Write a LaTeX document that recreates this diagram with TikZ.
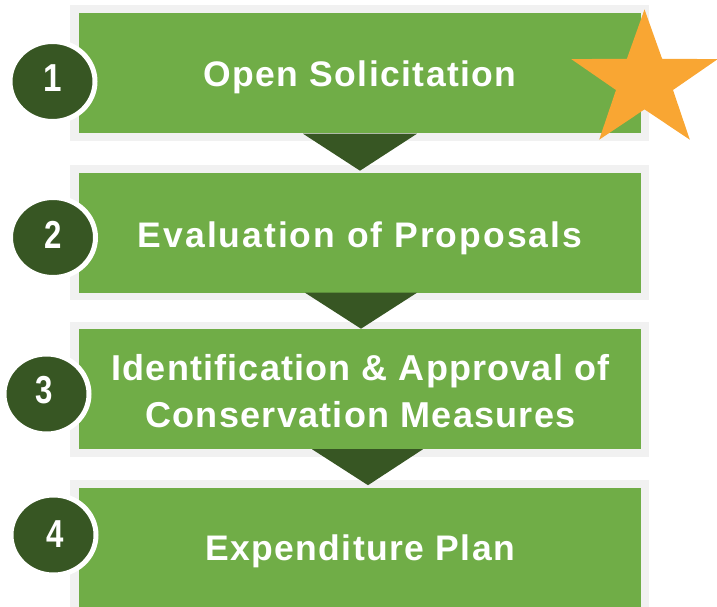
\documentclass[tikz,border=0pt]{standalone}
\usepackage{fontspec}
\usepackage{graphicx}
\setmainfont{Liberation Sans}
\usetikzlibrary{calc,shapes.geometric}
\definecolor{grn}{HTML}{70AD47}
\definecolor{dkg}{HTML}{375623}
\definecolor{frm}{HTML}{F1F1F1}
\definecolor{org}{HTML}{F9A633}
\begin{document}
\begin{tikzpicture}[x=1pt,y=-1pt,
  frame/.style={fill=frm,draw=none,inner sep=0pt,minimum width=579pt,minimum height=135pt},
  stepbox/.style={fill=grn,draw=none,inner sep=0pt,minimum width=562pt,minimum height=120pt},
  numdisc/.style={ellipse,fill=dkg,draw=white,line width=5pt,inner sep=0pt,minimum width=85pt,minimum height=80pt},
  numtxt/.style={text=white,anchor=base,inner sep=0pt,font=\bfseries\fontsize{39}{39}\selectfont},
  steptxt/.style={text=white,anchor=base,inner sep=0pt},
  tri/.style={fill=dkg}
]
\useasboundingbox (0,0) rectangle (717,607);
% frames and boxes
\node[frame] (f1) at (359.5,73) {};
\node[frame] (f2) at (359.5,232) {};
\node[frame] (f3) at (359.5,389) {};
\node[frame] (f4) at (359.5,547) {};
\node[stepbox] (b1) at (360,73.5) {};
\node[stepbox] (b2) at (360,232.5) {};
\node[stepbox] (b3) at (360,389) {};
\node[stepbox] (b4) at (360,547.5) {};
% connectors (triangles)
\fill[tri] ($(b1.south)+(-57,0)$) -- ($(b1.south)+(57,0)$) -- ($(b1.south)+(0,37)$) -- cycle;
\fill[tri] ($(b2.south)+(-55,0)$) -- ($(b2.south)+(57,0)$) -- ($(b2.south)+(1,36)$) -- cycle;
\fill[tri] ($(b3.south)+(-48,0)$) -- ($(b3.south)+(63,0)$) -- ($(b3.south)+(8,36)$) -- cycle;
% texts
\node[steptxt,font=\bfseries\fontsize{35.5}{35.5}\selectfont\addfontfeature{LetterSpace=4.0}] (t1) at (360,87) {Open Solicitation};
\node[steptxt,font=\bfseries\fontsize{35.5}{35.5}\selectfont\addfontfeature{LetterSpace=5.6}] (t2) at (360,247) {Evaluation of Proposals};
\node[steptxt,font=\bfseries\fontsize{36}{36}\selectfont\addfontfeature{LetterSpace=3.2}] (t3a) at (360.5,380) {Identification \& Approval of};
\node[steptxt,font=\bfseries\fontsize{36}{36}\selectfont\addfontfeature{LetterSpace=3.5}] (t3b) at (360.5,427) {Conservation Measures};
\node[steptxt,font=\bfseries\fontsize{35.5}{35.5}\selectfont\addfontfeature{LetterSpace=4.0}] (t4) at (360,560) {Expenditure Plan};
% number discs
\node[numdisc] (c1) at (52.5,81.5) {};
\node[numdisc] (c2) at (53,237.5) {};
\node[numdisc] (c3) at (46.5,394) {};
\node[numdisc] (c4) at (53.5,535) {};
\node[numtxt] (n1) at (53,92) {\scalebox{0.85}[1]{1}};
\node[numtxt] (n2) at (53,248) {\scalebox{0.8}[1]{2}};
\node[numtxt] (n3) at (44,403) {\scalebox{0.8}[1]{3}};
\node[numtxt] (n4) at (55,547) {\scalebox{0.8}[1]{4}};
% star
\fill[org] (644.5,9.4) -- (626.9,58.75) -- (571.3,59.15) -- (616,90) -- (599.2,139.65)
  -- (644.5,109.4) -- (689.8,139.65) -- (673,90) -- (717.7,59.15) -- (662.1,58.75) -- cycle;
\end{tikzpicture}
\end{document}
